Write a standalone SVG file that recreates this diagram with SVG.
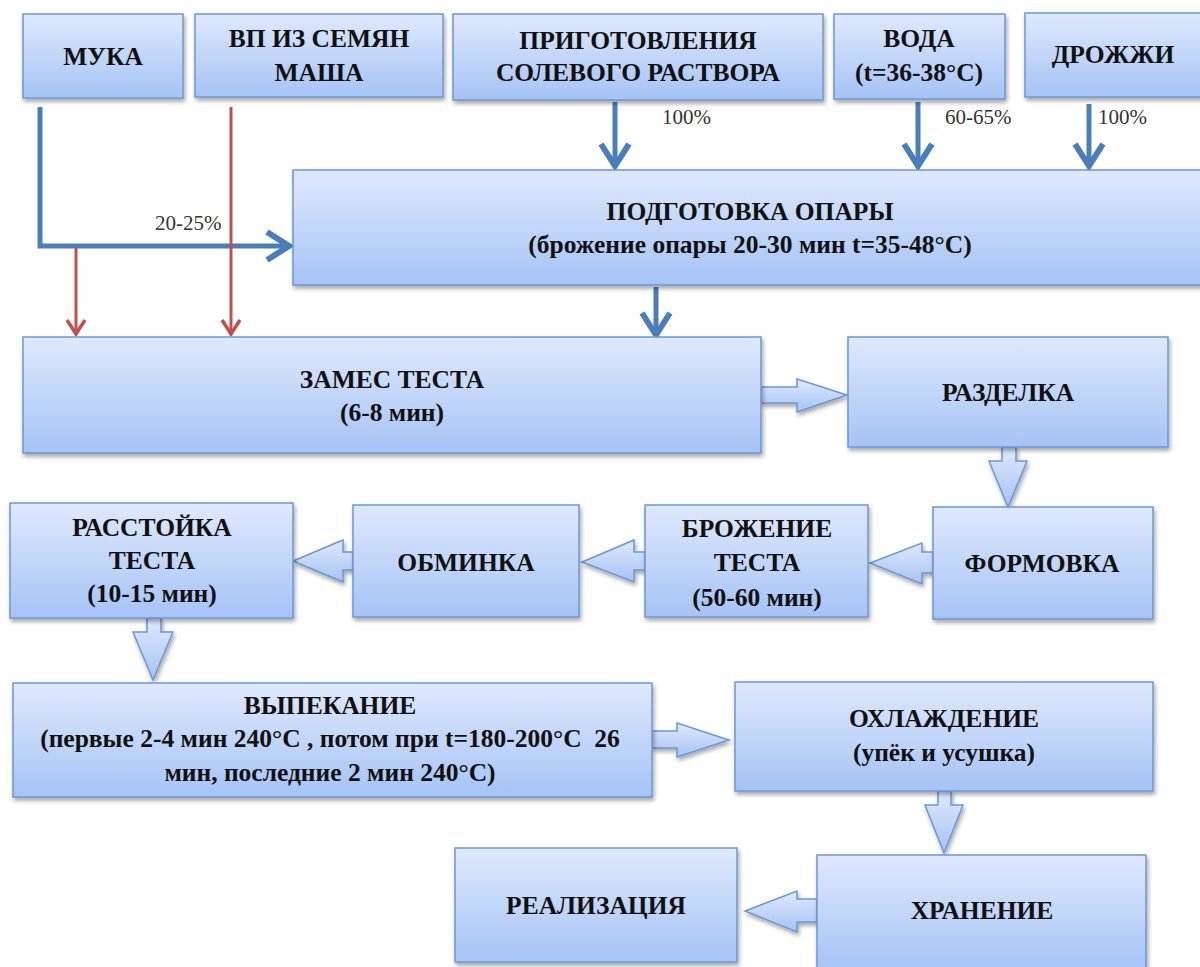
<svg xmlns="http://www.w3.org/2000/svg" width="1200" height="967" viewBox="0 0 1200 967">
<defs>
<linearGradient id="g" x1="0" y1="0" x2="0" y2="1">
<stop offset="0" stop-color="#dfe9fc"/>
<stop offset="1" stop-color="#a5c3f5"/>
</linearGradient>
<filter id="sh" x="-10%" y="-10%" width="120%" height="130%">
<feDropShadow dx="1.5" dy="3" stdDeviation="2" flood-color="#000" flood-opacity="0.35"/>
</filter>
<marker id="ab" markerUnits="userSpaceOnUse" markerWidth="40" markerHeight="40" viewBox="-30 -20 40 40" refX="0" refY="0" orient="auto">
<path d="M-23,-14 L-1,0 L-23,14" fill="none" stroke="#4a7ebb" stroke-width="6"/>
</marker>
<marker id="ar" markerUnits="userSpaceOnUse" markerWidth="30" markerHeight="30" viewBox="-20 -15 30 30" refX="0" refY="0" orient="auto">
<path d="M-15,-9 L-1,0 L-15,9" fill="none" stroke="#c0504d" stroke-width="3.5"/>
</marker>
</defs>
<style>
.box{fill:url(#g);stroke:#6b97d6;stroke-width:1.5;filter:url(#sh)}
.blk{fill:url(#g);stroke:#6b97d6;stroke-width:1.5;filter:url(#sh)}
.t{font-family:"Liberation Serif","Times New Roman",serif;font-weight:bold;font-size:25.5px;fill:#111;text-anchor:middle}
.p{font-family:"Liberation Serif","Times New Roman",serif;font-size:21px;fill:#333}
.bl{fill:none;stroke:#4a7ebb;stroke-width:5}
.rd{fill:none;stroke:#c0504d;stroke-width:3}
</style>
<rect width="1200" height="967" fill="#fff"/>

<g id="connectors">
<path class="bl" d="M615,102 V167" marker-end="url(#ab)"/>
<path class="bl" d="M918,102 V167" marker-end="url(#ab)"/>
<path class="bl" d="M1089,104 V167" marker-end="url(#ab)"/>
<path class="bl" d="M40,107 V246 H290" marker-end="url(#ab)"/>
<path class="bl" d="M656,287 V336" marker-end="url(#ab)"/>
<path class="rd" d="M231,107 V335" marker-end="url(#ar)"/>
<path class="rd" d="M76,248 V335" marker-end="url(#ar)"/>
<polygon class="blk" points="761,387 797,387 797,379 847,395 797,412 797,403 761,403"/>
<polygon class="blk" points="1002,447 1016,447 1016,461 1027,461 1008,507 989,461 1002,461"/>
<polygon class="blk" points="933,552 922,552 922,543 870,563 922,584 922,573 933,573"/>
<polygon class="blk" points="645,552 634,552 634,540 582,562 634,582 634,570 645,570"/>
<polygon class="blk" points="353,552 343,552 343,540 293,561 343,582 343,570 353,570"/>
<polygon class="blk" points="147,618 161,618 161,632 173,632 153,680 133,632 147,632"/>
<polygon class="blk" points="652,731 677,731 677,723 729,740 677,757 677,748 652,748"/>
<polygon class="blk" points="938,791 951,791 951,805 963,805 944,853 925,805 938,805"/>
<polygon class="blk" points="817,899 797,899 797,891 745,911 797,932 797,922 817,922"/>
<text class="p" x="662" y="124">100%</text>
<text class="p" x="945" y="124">60-65%</text>
<text class="p" x="1098" y="124">100%</text>
<text class="p" x="155" y="230">20-25%</text>
</g>

<g id="muka"><rect class="box" x="23" y="14" width="160" height="84"/><text class="t" x="103" y="65">МУКА</text></g>
<g id="vp"><rect class="box" x="195" y="14" width="248" height="83"/><text class="t" x="319" y="47">ВП ИЗ СЕМЯН</text><text class="t" x="319" y="81">МАША</text></g>
<g id="sol"><rect class="box" x="453" y="14" width="370" height="86"/><text class="t" x="638" y="49">ПРИГОТОВЛЕНИЯ</text><text class="t" x="638" y="81">СОЛЕВОГО РАСТВОРА</text></g>
<g id="voda"><rect class="box" x="834" y="14" width="171" height="85"/><text class="t" x="919" y="47">ВОДА</text><text class="t" x="919" y="81">(t=36-38°C)</text></g>
<g id="drozh"><rect class="box" x="1025" y="13" width="180" height="84"/><text class="t" x="1113" y="63">ДРОЖЖИ</text></g>
<g id="opara"><rect class="box" x="293" y="170" width="912" height="115"/><text class="t" x="750" y="220">ПОДГОТОВКА ОПАРЫ</text><text class="t" x="750" y="253">(брожение опары 20-30 мин t=35-48°C)</text></g>
<g id="zames"><rect class="box" x="23" y="337" width="738" height="116"/><text class="t" x="392" y="388">ЗАМЕС ТЕСТА</text><text class="t" x="392" y="421">(6-8 мин)</text></g>
<g id="razdelka"><rect class="box" x="848" y="337" width="320" height="110"/><text class="t" x="1008" y="401">РАЗДЕЛКА</text></g>
<g id="rasstoika"><rect class="box" x="10" y="503" width="283" height="115"/><text class="t" x="152" y="536">РАССТОЙКА</text><text class="t" x="152" y="569">ТЕСТА</text><text class="t" x="152" y="602">(10-15 мин)</text></g>
<g id="obminka"><rect class="box" x="353" y="505" width="226" height="112"/><text class="t" x="466" y="571">ОБМИНКА</text></g>
<g id="brozhenie"><rect class="box" x="645" y="505" width="223" height="112"/><text class="t" x="757" y="537">БРОЖЕНИЕ</text><text class="t" x="757" y="571">ТЕСТА</text><text class="t" x="757" y="606">(50-60 мин)</text></g>
<g id="formovka"><rect class="box" x="933" y="507" width="220" height="112"/><text class="t" x="1042" y="572">ФОРМОВКА</text></g>
<g id="vypekanie"><rect class="box" x="13" y="683" width="639" height="114"/><text class="t" x="330" y="714">ВЫПЕКАНИЕ</text><text class="t" x="330" y="747">(первые 2-4 мин 240°C , потом при t=180-200°C&#160; 26</text><text class="t" x="330" y="781">мин, последние 2 мин 240°C)</text></g>
<g id="ohlazhdenie"><rect class="box" x="735" y="682" width="418" height="109"/><text class="t" x="944" y="727">ОХЛАЖДЕНИЕ</text><text class="t" x="944" y="761">(упёк и усушка)</text></g>
<g id="realizaciya"><rect class="box" x="455" y="848" width="282" height="114"/><text class="t" x="596" y="914">РЕАЛИЗАЦИЯ</text></g>
<g id="hranenie"><rect class="box" x="817" y="855" width="329" height="115"/><text class="t" x="982" y="919">ХРАНЕНИЕ</text></g>
</svg>
